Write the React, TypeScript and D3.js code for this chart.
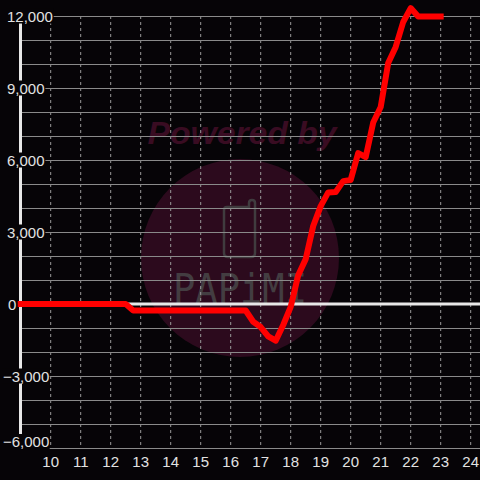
import React from "react";
import * as d3 from "d3";

const times = [9, 12.5, 12.75, 16.5, 16.75, 17, 17.25, 17.5, 17.75, 18, 18.25, 18.5, 18.75, 19, 19.25, 19.5, 19.75, 20, 20.25, 20.5, 20.75, 21, 21.25, 21.5, 21.75, 22, 22.25, 23];
const values = [0, 0, -270, -270, -740, -960, -1350, -1530, -875, -120, 1200, 1870, 3250, 4080, 4650, 4670, 5120, 5170, 6290, 6120, 7560, 8210, 10040, 10710, 11750, 12330, 11980, 11980];
const xTicks = [10, 11, 12, 13, 14, 15, 16, 17, 18, 19, 20, 21, 22, 23, 24];
const yLabelTicks = [12000, 9000, 6000, 3000, 0, -3000, -6000];
const yGridTicks = [12000, 11000, 10000, 9000, 8000, 7000, 6000, 5000, 4000, 3000, 2000, 1000, -1000, -2000, -3000, -4000, -5000, -6000];

const BG = "#060407";
const FONT = "'Liberation Sans', Arial, sans-serif";

export default function App() {
  const x = d3.scaleLinear().domain([9, 24]).range([20.7, 470.7]);
  const y = d3.scaleLinear().domain([-6000, 12000]).range([448, 16]);
  const pts = times.map((t, i) => [t, values[i]] as [number, number]);
  const line = d3.line<[number, number]>().x((d) => x(d[0])).y((d) => y(d[1]));
  const fmt = d3.format(",");

  const labelWidth = (s: string) => {
    let w = 0;
    for (const c of s) w += c === "," ? 4.2 : c === "-" ? 5 : 8.3;
    return w;
  };
  const labelX = (v: number) => (v < 0 ? 3 : v === 0 ? 8 : 7);

  return (
    <svg width={480} height={480} style={{ position: "absolute", left: 0, top: 0, display: "block", background: BG }}>
      <rect x={0} y={0} width={480} height={480} fill={BG} />
      {/* watermark */}
      <g>
        <circle cx={240} cy={258} r={99} fill="#2c0a1d" />
        <text x={242} y={144} textAnchor="middle" fontFamily={FONT} fontWeight="bold" fontStyle="italic" fontSize={32} fill="#390c22" textLength={189} lengthAdjust="spacingAndGlyphs">Powered by</text>
        <path d="M224,210 Q224,207 227,207 L249,207 L249,203 Q249,200 252,200 Q255,200 255,203 L255,253 Q255,257 251,257 L228,257 Q224,257 224,253 Z" fill="none" stroke="#403c3f" strokeWidth={2.5} />
        <text x={173} y={303} fontFamily="'DejaVu Sans Mono', monospace" fontSize={40} fill="#433d41" textLength={134} lengthAdjust="spacingAndGlyphs">PAPiMI</text>
      </g>
      {/* vertical dashed grid */}
      {xTicks.map((t) => (
        <line key={"vx" + t} x1={x(t)} x2={x(t)} y1={16} y2={447} stroke="#9a9a9a" strokeWidth={1} strokeDasharray="3,3" />
      ))}
      {/* horizontal grid */}
      {yGridTicks.map((v) => (
        <line key={"hy" + v} x1={20} x2={480} y1={Math.round(y(v)) + 0.5} y2={Math.round(y(v)) + 0.5} stroke="#8a8a8a" strokeWidth={1} />
      ))}
      {/* zero line */}
      <line x1={20} x2={480} y1={y(0)} y2={y(0)} stroke="#e8e8e8" strokeWidth={3} />
      {/* y axis */}
      <line x1={20.5} x2={20.5} y1={16} y2={448} stroke="#e8e8e8" strokeWidth={3} />
      {/* y labels */}
      {yLabelTicks.map((v) => {
        const s = fmt(v);
        const cy = Math.min(y(v), 441.5);
        const lx = labelX(v);
        const w = labelWidth(s);
        return (
          <g key={"yl" + v}>
            <rect x={lx - 1} y={cy - 7.5} width={w + 2} height={15} fill={BG} />
            <text x={lx} y={cy + 5.5} fontFamily={FONT} fontSize={15} fill="#e2e2e2">{s}</text>
          </g>
        );
      })}
      {/* x labels */}
      {xTicks.map((t) => (
        <text key={"xl" + t} x={x(t)} y={466.5} textAnchor="middle" fontFamily={FONT} fontSize={15} fill="#e2e2e2">{t}</text>
      ))}
      {/* data line */}
      <path d={line(pts) || ""} fill="none" stroke="#ff0000" strokeWidth={6} strokeLinejoin="round" strokeLinecap="square" />
    </svg>
  );
}
